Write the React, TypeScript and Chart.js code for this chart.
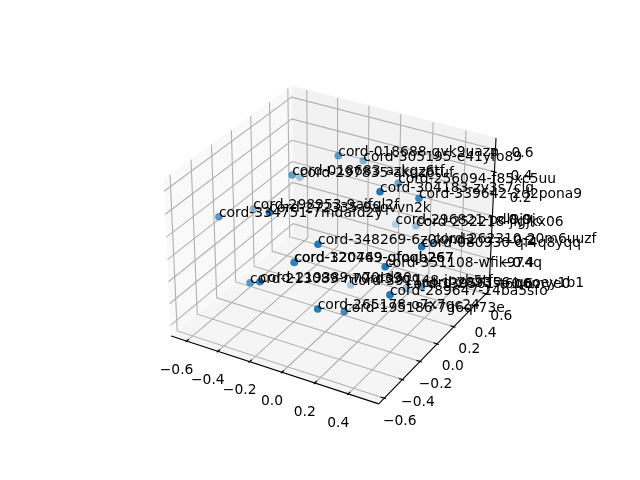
import React, { useEffect, useRef } from "react";
import { Chart, registerables } from "chart.js";
Chart.register(...registerables);

const labels = ["cord-018688-gvk9uazp","cord-305195-e41yfo89","cord-018683-azkgz6tf","cord-297835-akqz6tuf","cord-256094-f85xc5uu","cord-304183-zv3s7clq","cord-339642-2d2pona9","cord-298953-9aifql2f","cord-272335-9aqvvn2k","cord-334751-7mdafd2y","cord-296821-pdl9j9jc","cord-252218-jlgjkx06","cord-348269-6z0kind2","cord-262310-20m6uuzf","cord-080930-qf4q8yqq","cord-120469-gfoqb267","cord-320749-gfoqb267","cord-351108-wfik974q","cord-213089-n70rd39q","cord-219389-n70rd30q","cord-391148-ipyb5tfe","cord-289647-14ba5sfo","cord-265178-o7x7qc24","cord-195186-7g6qr73e","cord-139561-t6b6mye0","cord-289356-qooey1b1"];
const xs = [-0.053,-0.052,-0.238,-0.422,0.200,0.390,0.484,-0.536,-0.131,-0.484,0.043,0.228,0.186,0.443,0.641,-0.083,-0.081,0.507,-0.256,-0.084,-0.060,0.563,0.236,0.268,0.266,0.528];
const ys = [0.034,0.309,-0.134,0.256,0.241,-0.321,-0.070,-0.056,-0.545,-0.479,0.520,0.409,-0.596,0.195,-0.336,-0.384,-0.383,-0.474,-0.548,-0.724,0.190,-0.524,-0.688,-0.469,0.230,-0.100];
const zs = [0.697,0.474,0.569,0.215,0.416,0.800,0.610,0.094,0.569,0.341,-0.211,-0.072,0.466,0.010,0.451,0.039,0.038,0.323,-0.096,0.122,-0.589,0.144,0.000,-0.180,-0.506,-0.123];

const xTicks = [-0.6,-0.4,-0.2,0,0.2,0.4];
const yTicks = [-0.6,-0.4,-0.2,0,0.2,0.4,0.6];
const zTicks = [-0.6,-0.4,-0.2,0,0.2,0.4,0.6];
const xLim = [-0.7,0.58], yLim = [-0.66,0.64], zLim = [-0.7,0.7];

const f = 1.8294640721620434*25/24/Math.sqrt(41);
const box = [4*f,4*f,3*f];
const el = 30*Math.PI/180, az = -60*Math.PI/180;
const ps = [Math.cos(el)*Math.cos(az),Math.cos(el)*Math.sin(az),Math.sin(el)];
const eye = box.map((b,i)=>b/2+10*ps[i]);
const w = ps;
const un = Math.hypot(w[1],w[0]);
const u = [-w[1]/un,w[0]/un,0];
const v = [w[1]*u[2]-w[2]*u[1],w[2]*u[0]-w[0]*u[2],w[0]*u[1]-w[1]*u[0]];
const dot=(a:number[],b:number[])=>a[0]*b[0]+a[1]*b[1]+a[2]*b[2];
function proj(x:number,y:number,z:number){
  const P=[(x-xLim[0])/(xLim[1]-xLim[0])*box[0]-eye[0],(y-yLim[0])/(yLim[1]-yLim[0])*box[1]-eye[1],(z-zLim[0])/(zLim[1]-zLim[0])*box[2]-eye[2]];
  const d=-dot(w,P);
  return {x:dot(u,P)/d,y:dot(v,P)/d,d};
}
const VMIN=-0.095,VMAX=0.09;
const L=143.2,R=512.8,T=57.6,B=427.2;
const pts=xs.map((_,i)=>proj(xs[i],ys[i],zs[i]));
const ds=pts.map(p=>p.d);
const dmin=Math.min(...ds),dmax=Math.max(...ds);
const alphas=ds.map(d=>0.3+0.7*(dmax-d)/(dmax-dmin));
const poly=(a:number[][])=>a.map(p=>{const q=proj(p[0],p[1],p[2]);return {x:q.x,y:q.y};});
const [x0,x1]=xLim,[y0,y1]=yLim,[z0,z1]=zLim;

export default function App(){
  const ref=useRef<HTMLCanvasElement>(null);
  useEffect(()=>{
    const line=(data:any,color:string,width:number,order:number,extra:any={})=>({data,showLine:true,borderColor:color,borderWidth:width,pointRadius:0,order,...extra});
    const datasets:any[]=[
      line(poly([[x0,y0,z0],[x0,y1,z0],[x0,y1,z1],[x0,y0,z1]]),"rgb(249,249,249)",1,9,{fill:"shape",backgroundColor:"rgb(249,249,249)"}),
      line(poly([[x0,y1,z0],[x1,y1,z0],[x1,y1,z1],[x0,y1,z1]]),"rgb(242,242,242)",1,9,{fill:"shape",backgroundColor:"rgb(242,242,242)"}),
      line(poly([[x0,y0,z0],[x1,y0,z0],[x1,y1,z0],[x0,y1,z0]]),"rgb(245,245,245)",1,9,{fill:"shape",backgroundColor:"rgb(245,245,245)"}),
    ];
    xTicks.forEach(t=>datasets.push(line(poly([[t,y0,z0],[t,y1,z0],[t,y1,z1]]),"rgb(176,176,176)",1.1,8)));
    yTicks.forEach(t=>datasets.push(line(poly([[x1,t,z0],[x0,t,z0],[x0,t,z1]]),"rgb(176,176,176)",1.1,8)));
    zTicks.forEach(t=>datasets.push(line(poly([[x0,y0,t],[x0,y1,t],[x1,y1,t]]),"rgb(176,176,176)",1.1,8)));
    datasets.push(line(poly([[x0,y0,z0],[x1,y0,z0]]),"#000",1.1,7));
    datasets.push(line(poly([[x1,y0,z0],[x1,y1,z0]]),"#000",1.1,7));
    datasets.push(line(poly([[x1,y1,z0],[x1,y1,z1]]),"#000",1.1,7));
    const dx=(x1-x0)/12, dy=(y1-y0)/12;
    xTicks.forEach(t=>datasets.push(line(poly([[t,y0+0.2*dy,z0],[t,y0-0.1*dy,z0]]),"#000",1.1,7)));
    yTicks.forEach(t=>datasets.push(line(poly([[x1-0.2*dx,t,z0],[x1+0.1*dx,t,z0]]),"#000",1.1,7)));
    zTicks.forEach(t=>datasets.push(line(poly([[x1-0.2*dx,y1,t],[x1+0.1*dx,y1,t]]),"#000",1.1,7)));
    datasets.push({data:pts.map(p=>({x:p.x,y:p.y})),pointRadius:3.8,pointBorderWidth:0,pointBackgroundColor:alphas.map(a=>`rgba(31,119,180,${a})`),showLine:false,order:1});
    const fmt=(t:number)=>(t<0?"\u2212":"")+Math.abs(t).toFixed(1);
    const textPlugin={id:"texts",afterDatasetsDraw(c:any){
      const ctx=c.ctx,sx=c.scales.x,sy=c.scales.y;
      const X=(v:number)=>sx.getPixelForValue(v),Y=(v:number)=>sy.getPixelForValue(v);
      ctx.save();ctx.fillStyle="#000";ctx.font="13.89px 'DejaVu Sans'";
      ctx.textAlign="left";ctx.textBaseline="alphabetic";
      labels.forEach((l,i)=>ctx.fillText(l,X(pts[i].x),Y(pts[i].y)));
      ctx.textAlign="center";ctx.textBaseline="middle";
      xTicks.forEach(t=>{const q=proj(t,y0,z0);ctx.fillText(fmt(t),X(q.x)-10,Y(q.y)+29);});
      yTicks.forEach(t=>{const q=proj(x1,t,z0);ctx.fillText(fmt(t),X(q.x)+15.5,Y(q.y)+23);});
      zTicks.forEach(t=>{const q=proj(x1,y1,t);ctx.fillText(fmt(t),X(q.x)+27,Y(q.y)+4);});
      ctx.restore();
    }};
    const chart=new Chart(ref.current!,{type:"scatter",data:{datasets},plugins:[textPlugin],options:{
      responsive:false,animation:false,
      layout:{padding:{left:L,right:640-R,top:T,bottom:480-B}},
      plugins:{legend:{display:false},tooltip:{enabled:false},filler:{propagate:false}},
      elements:{line:{tension:0}},
      scales:{x:{type:"linear",display:false,min:VMIN,max:VMAX},y:{type:"linear",display:false,min:VMIN,max:VMAX}},
    }} as any);
    return ()=>chart.destroy();
  },[]);
  return <canvas ref={ref} width={640} height={480} style={{position:"fixed",left:0,top:0,display:"block"}}/>;
}
